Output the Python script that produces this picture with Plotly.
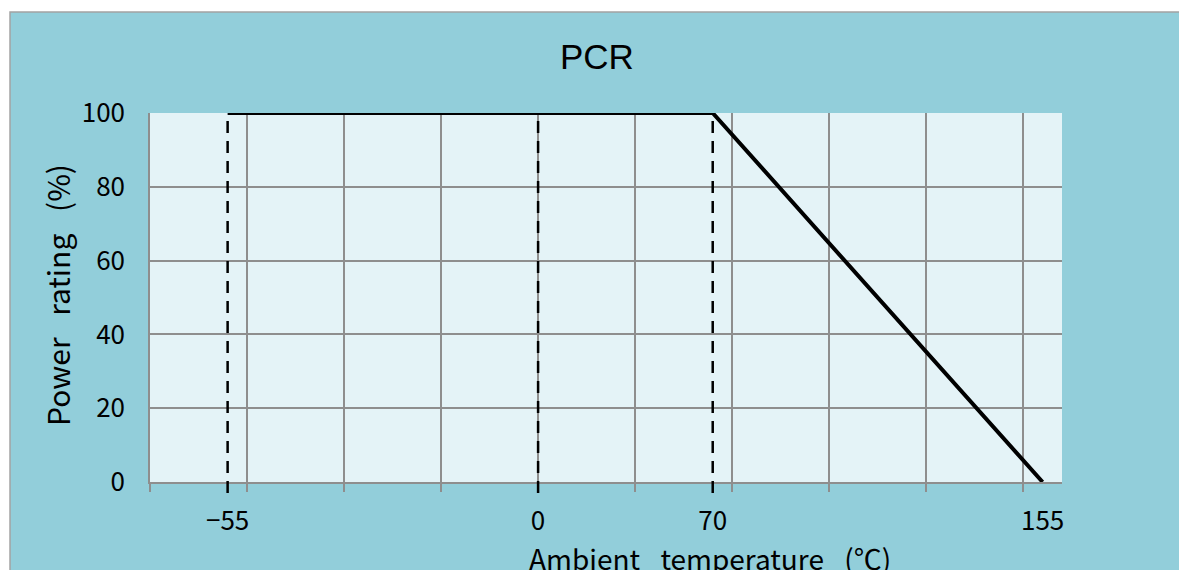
import plotly.graph_objects as go

# ---- data ----
temp_c = [-55, 70, 155]          # derating curve, ambient temperature (°C)
power_pct = [100, 100, 0]        # power rating (%)
dashed_x = [-55, 25, 70]         # vertical dashed reference lines
xlabel_pos = [-55, 25, 70, 155]  # positions of the x labels
xlabel_text = ["\u221255", "0", "70", "155"]
y_ticks = [0, 20, 40, 60, 80, 100]
x_range = [-75, 160]
y_range = [0, 100]

OUTER = "#92CEDA"
INNER = "#E4F3F7"
GRID = "#8E8E8E"
JP = "Noto Sans CJK JP"
SP = "\u2002 "

fig = go.Figure()

fig.add_trace(go.Scatter(
    x=temp_c, y=power_pct, mode="lines",
    line=dict(color="black", width=4),
    hoverinfo="skip", showlegend=False,
))

shapes = [
    # outer chart box
    dict(type="rect", xref="paper", yref="paper", x0=-0.1535, x1=1.1316,
         y0=-0.40, y1=1.2737, fillcolor=OUTER,
         line=dict(color="#A3A3A3", width=1.5), layer="below"),
    # plot area
    dict(type="rect", xref="paper", yref="paper", x0=0, x1=1, y0=0, y1=1,
         fillcolor=INNER, line=dict(width=0), layer="below"),
]
for xv in dashed_x:
    shapes.append(dict(type="line", xref="x", yref="y domain",
                       x0=xv, x1=xv, y0=-0.03, y1=1,
                       line=dict(color="black", width=2.5, dash="12px,8px")))

fig.update_layout(
    width=1187, height=570,
    margin=dict(l=142, r=133, t=105, b=96),
    paper_bgcolor="white",
    plot_bgcolor="rgba(0,0,0,0)",
    shapes=shapes,
    xaxis=dict(
        range=x_range, showline=True, linecolor=GRID, linewidth=1.5,
        tickvals=xlabel_pos, ticktext=xlabel_text, ticks="", showgrid=False,
        ticklabelstandoff=15,
        tickfont=dict(family=JP, size=26, color="black"),
        minor=dict(tick0=-75, dtick=25, showgrid=True, gridcolor=GRID,
                   gridwidth=1.5, ticks="outside", ticklen=8,
                   tickcolor=GRID, tickwidth=1.5),
        zeroline=False, fixedrange=True,
    ),
    yaxis=dict(
        range=y_range, tickvals=y_ticks, showgrid=True, gridcolor=GRID,
        gridwidth=1.5, showline=True, linecolor=GRID, linewidth=1.5,
        ticks="", ticklabelstandoff=18,
        tickfont=dict(family=JP, size=26, color="black"),
        zeroline=False, fixedrange=True,
    ),
    annotations=[
        dict(text="PCR", xref="paper", yref="paper", x=0.490, y=1.152,
             showarrow=False, xanchor="center", yanchor="middle",
             font=dict(family="Liberation Sans", size=35, color="black")),
        dict(text="Power" + SP + "rating" + SP + "(%)", xref="paper",
             yref="paper", x=-0.102, y=0.507, textangle=-90, showarrow=False,
             xanchor="center", yanchor="middle",
             font=dict(family=JP, size=30, color="black")),
        dict(text="Ambient" + SP + "temperature" + SP + "(\u2103)",
             xref="paper", yref="paper", x=0.614, y=-0.205, showarrow=False,
             xanchor="center", yanchor="middle",
             font=dict(family=JP, size=28, color="black")),
    ],
)

fig.write_html("out.html")
